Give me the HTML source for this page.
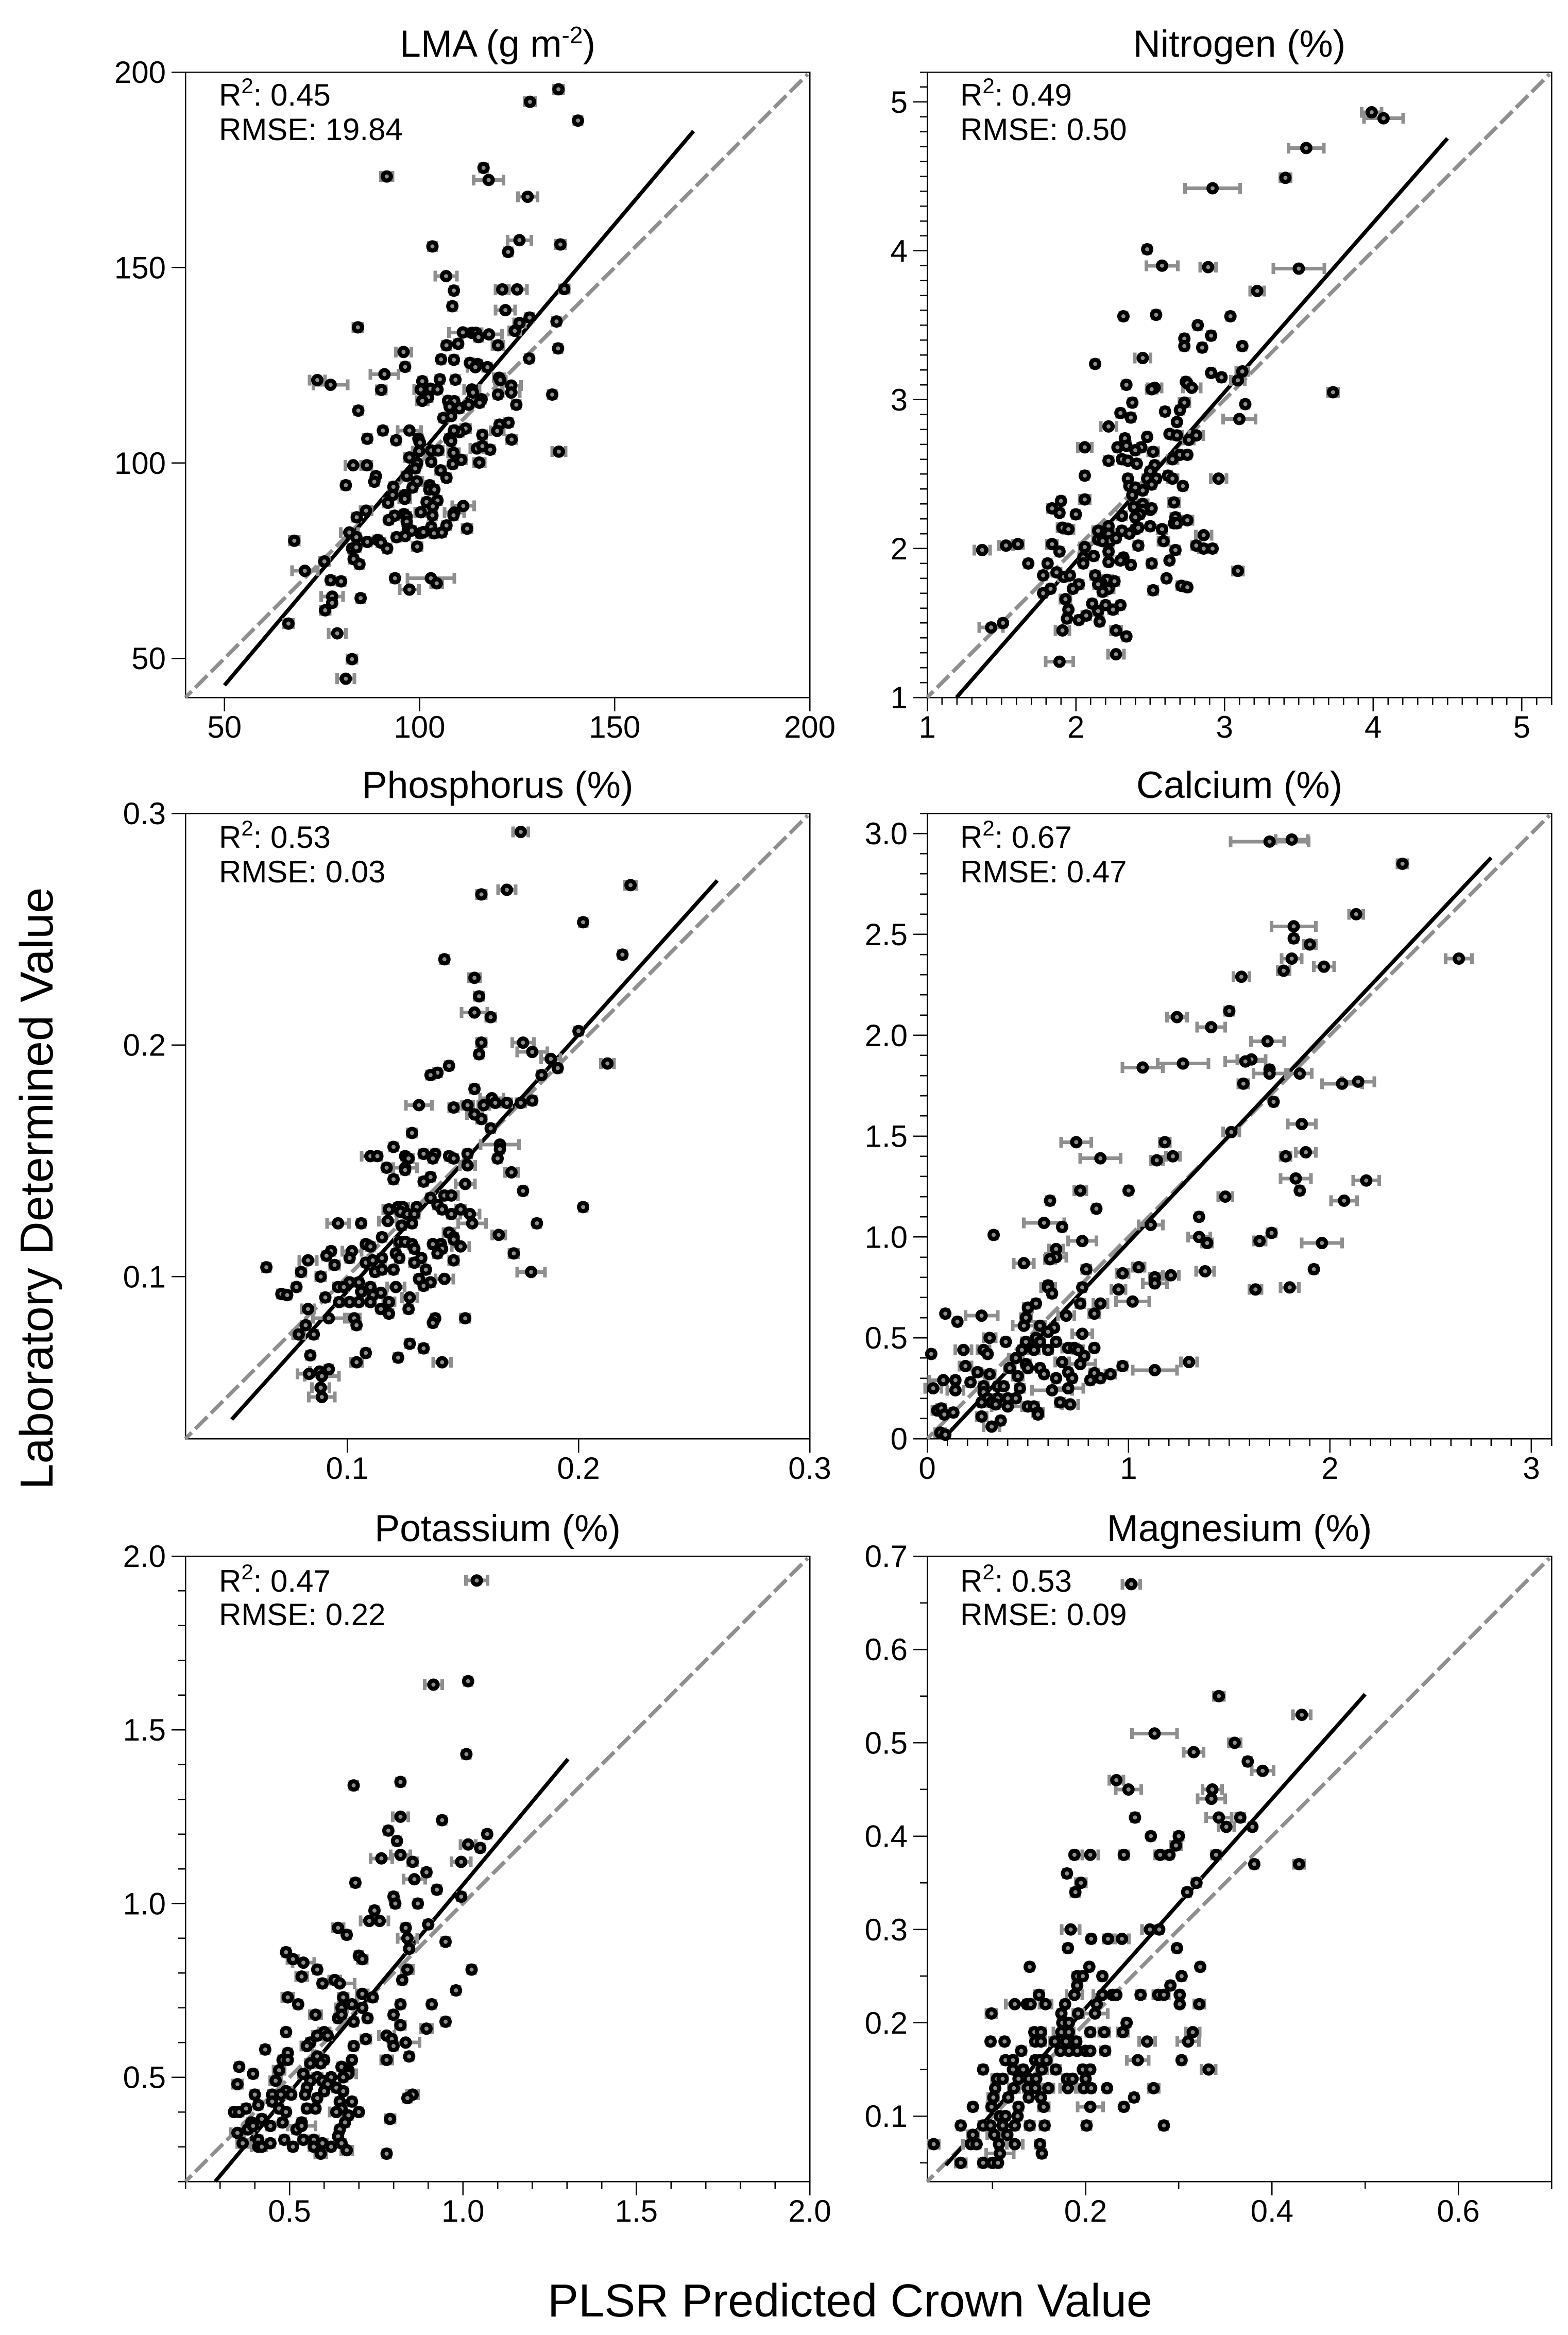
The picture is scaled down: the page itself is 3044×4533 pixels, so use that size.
<!DOCTYPE html>
<html lang="en">
<head>
<meta charset="utf-8">
<title>PLSR Predicted Crown Value vs Laboratory Determined Value</title>
<style>
html,body{margin:0;padding:0;background:#fff}
svg{display:block;font-family:"Liberation Sans",Arial,sans-serif;fill:#000}
.title{font-size:73.5px;text-anchor:middle}
.stat{font-size:60px}
.big{font-size:90px;text-anchor:middle}
.tick{font-size:60px}
</style>
</head>
<body>
<svg id="figure" xmlns="http://www.w3.org/2000/svg" width="3044" height="4533" viewBox="0 0 3044 4533">
<rect x="0" y="0" width="3044" height="4533" fill="#fff"/>
<text class="big" transform="translate(102 2307) rotate(-90)">Laboratory Determined Value</text>
<text class="big" x="1650" y="4497">PLSR Predicted Crown Value</text>

<text class="title" x="966" y="110">LMA (g m<tspan dy="-26" font-size="46">-2</tspan><tspan dy="26">)</tspan></text>
<text class="title" x="2406" y="110">Nitrogen (%)</text>
<text class="title" x="966" y="1549">Phosphorus (%)</text>
<text class="title" x="2406" y="1549">Calcium (%)</text>
<text class="title" x="966" y="2992">Potassium (%)</text>
<text class="title" x="2406" y="2992">Magnesium (%)</text>

<g id="marks"></g>

<g>
<text class="stat" x="425" y="205">R<tspan dy="-24" font-size="42">2</tspan><tspan dy="24">: 0.45</tspan></text>
<text class="stat" x="425" y="272">RMSE: 19.84</text>
</g>
<g>
<text class="stat" x="1864" y="205">R<tspan dy="-24" font-size="42">2</tspan><tspan dy="24">: 0.49</tspan></text>
<text class="stat" x="1864" y="272">RMSE: 0.50</text>
</g>
<g>
<text class="stat" x="425" y="1646">R<tspan dy="-24" font-size="42">2</tspan><tspan dy="24">: 0.53</tspan></text>
<text class="stat" x="425" y="1713">RMSE: 0.03</text>
</g>
<g>
<text class="stat" x="1864" y="1646">R<tspan dy="-24" font-size="42">2</tspan><tspan dy="24">: 0.67</tspan></text>
<text class="stat" x="1864" y="1713">RMSE: 0.47</text>
</g>
<g>
<text class="stat" x="425" y="3090">R<tspan dy="-24" font-size="42">2</tspan><tspan dy="24">: 0.47</tspan></text>
<text class="stat" x="425" y="3155">RMSE: 0.22</text>
</g>
<g>
<text class="stat" x="1864" y="3090">R<tspan dy="-24" font-size="42">2</tspan><tspan dy="24">: 0.53</tspan></text>
<text class="stat" x="1864" y="3155">RMSE: 0.09</text>
</g>
</svg>

<script>
// ---------- LMA ----------
const lmaPredicted = [135.6,128.3,140.6,91.6,116.4,117.7,127.7,125.6,103.3,136.1,122.7,106.8,108.8,121.2,125,137.1,108.4,122,128.2,135.1,125.6,84.2,124.4,111.1,113.4,114.5,115.1,117.8,109.9,106.9,120.1,95.9,135.5,105.5,108.8,128.1,112.9,114.9,114.3,117.4,96.3,91,73.8,77.2,100.7,105.2,109.2,120.4,120.7,123.5,90.2,100.3,102.8,104.6,113.4,113.7,123.5,120.1,134,102.2,100.7,107.3,108.9,115.9,115.4,112.6,124.8,110.2,107.7,84.3,108.1,106.1,122.8,120.5,119.9,111.8,110.2,108.8,97.4,90.6,116.1,86.6,94,99.7,100.1,107.6,108.1,123.6,135.7,114.7,116.1,118.1,99.9,103,104.8,108.7,97.4,103,110.7,115.3,108.5,83,86.5,99.4,98.9,105.4,88.8,88.4,96.7,106.9,99.3,81.1,93.3,98.2,102.6,102.5,103.8,96.2,96.2,93.1,101.8,104.6,91.9,103.4,111.2,86.3,100.3,108.9,83.9,93.6,96,96.7,103.3,108.7,92.1,96.7,106.9,103,112.2,97,98,82,83.8,96.3,94.1,100.2,101,103.7,105.7,86.6,67.9,89.3,90.1,99.4,82.7,83.8,91.7,75.6,83.1,84.6,70.6,93.7,77.2,79.9,102.9,104.4,97.4,77.6,84.9,77.6,75.8,66.4,78.9,82.7,81.1];
const lmaMeasured = [195.6,192.4,187.6,173.3,175.5,172.4,168.1,157,155.4,155.9,154,147.8,144.1,144.4,144.4,144.5,140.1,139.1,137.2,136.2,135.8,134.7,133.8,133.4,133.3,133.3,132.2,132.9,130.5,130.1,130.1,128.4,129.3,126.5,126.4,126.7,125.6,125.3,124.5,124.5,124.6,122.7,121.2,120,120.9,121.4,121.3,121.8,121.2,119.8,118.7,118.8,119,118.8,118.8,118,118,117.5,117.5,116.8,115.9,115.9,115.8,116.3,115.4,114.9,114.9,114,114.4,113.4,112,111.5,110.3,109.8,108.2,108.8,107.9,108.3,108.3,108.3,107.2,106.2,105.8,106.2,105.2,106.2,105.6,106,102.9,103.7,104.3,103.4,103,103.2,103.2,102.6,101.4,100.3,100.8,100.1,99.7,99.4,99.4,99.9,98.6,98.1,96.6,95.2,96.7,96.2,95.3,94.3,93.9,93.7,94.3,93.2,93.2,91.8,90.8,91.8,90,90.4,89.8,88.9,89,87.8,87.4,87.3,86.1,86.5,86.9,86.3,86.6,86.6,85.4,85,84,83.6,83.2,83.1,82.7,82.2,81,81.3,81,82,82.3,82,82.2,79.8,80.1,80.3,79.6,78.6,78.1,78.4,78.1,74.8,75.4,74.1,72.4,70.5,70,69.7,70.5,69.2,67.6,65.8,65.4,64.2,62.3,58.9,56.4,49.8,44.8];
const lmaError = [1.15,1.4,.9,1.5,.9,3.85,2.5,3.05,.9,1.15,.9,2.8,.9,1.7,2.5,1.15,.9,2.5,.9,.9,1.4,1.15,1.4,3.6,.9,1.4,.9,3.3,.9,.9,1.4,2,.9,.9,.9,.9,.9,.9,2,.9,.9,3.6,2,4.4,.9,.9,.9,1.4,1.4,2.5,1.15,1.7,1.7,.9,2,.9,2.2,.9,.9,.9,1.4,.9,.9,.9,.9,.9,.9,.9,.9,.9,.9,.9,.9,.9,1.7,1.15,.9,.9,3,.9,.9,.9,.9,.9,.9,.9,.9,1.15,1.7,1.7,.9,.9,1.7,.9,1.15,1.4,1.15,.9,1.15,1.4,.9,2,1.15,.9,.9,1.15,.9,.9,1.15,.9,1.4,.9,.9,.9,.9,.9,.9,1.4,1.4,.9,.9,.9,1.15,.9,2.8,1.4,1.4,2.5,.9,.9,.9,.9,.9,.9,.9,.9,.9,.9,1.15,.9,.9,2.2,.9,.9,.9,.9,.9,.9,.9,.9,1.15,.9,.9,1.15,.9,.9,.9,1.15,.9,.9,3.3,.9,.9,.9,6,1.4,2.5,2.8,.9,.9,1.15,1.15,2.2,1.15,2.2];
const lmaXLabels = ['50','100','150','200'];
const lmaYLabels = ['50','100','150','200'];
const lmaFit = [[50,43.1],[170.2,184.9]];

// ---------- Nitrogen ----------
const nitrogenPredicted = [3.99,4.07,3.55,3.41,2.92,2.48,2.58,2.89,3.50,3.22,2.32,2.54,3.04,2.82,2.91,2.73,2.73,2.85,3.12,2.45,2.13,2.91,3.12,2.98,3.09,2.74,2.75,2.78,2.34,2.53,2.51,3.73,2.38,2.73,3.14,2.60,2.70,2.30,2.37,3.10,2.68,2.22,2.63,2.68,2.81,2.76,2.48,2.33,2.28,2.34,2.06,2.44,2.40,2.52,2.70,2.75,2.65,2.22,2.31,2.35,2.41,2.53,2.50,2.06,2.35,2.48,2.54,2.62,2.65,2.96,2.51,2.36,2.72,2.40,2.45,2.06,1.90,2.38,2.66,2.45,1.84,2.39,2.50,2.51,1.89,2.45,2.00,2.43,2.31,2.40,2.67,2.75,2.66,2.68,2.50,2.22,1.91,1.95,2.40,2.42,2.58,2.15,2.31,2.36,2.22,2.86,2.15,2.59,2.23,2.27,2.18,1.84,1.61,1.53,2.42,2.81,2.06,2.86,2.92,1.37,1.89,2.22,2.67,2.12,2.05,2.32,2.30,2.63,1.81,1.68,2.05,2.22,2.51,2.37,3.09,1.87,1.78,1.92,1.96,2.13,2.61,2.21,2.17,2.26,2.15,2.02,2.71,2.75,1.98,1.83,2.22,2.52,2.18,1.78,1.93,2.11,2.20,2.30,1.95,2.25,2.15,2.07,1.94,2.02,2.16,1.51,1.43,1.91,2.27,2.34,2.27,1.89];
const nitrogenMeasured = [4.93,4.89,4.69,4.49,4.42,4.01,3.90,3.89,3.88,3.73,3.56,3.57,3.56,3.50,3.43,3.41,3.36,3.35,3.36,3.28,3.24,3.18,3.19,3.15,3.13,3.12,3.11,3.08,3.10,3.08,3.07,3.05,2.98,2.98,2.97,2.92,2.93,2.91,2.88,2.87,2.85,2.82,2.77,2.76,2.76,2.73,2.75,2.74,2.68,2.69,2.68,2.68,2.66,2.65,2.63,2.63,2.60,2.59,2.60,2.59,2.57,2.56,2.52,2.49,2.47,2.47,2.47,2.49,2.47,2.47,2.43,2.42,2.42,2.41,2.39,2.33,2.32,2.36,2.31,2.30,2.27,2.28,2.26,2.27,2.24,2.26,2.23,2.23,2.22,2.21,2.21,2.19,2.17,2.17,2.15,2.15,2.14,2.13,2.13,2.14,2.13,2.12,2.12,2.10,2.10,2.09,2.06,2.05,2.05,2.07,2.05,2.03,2.03,2.02,2.02,2.02,2.01,2.00,2.00,1.99,1.98,1.98,1.99,1.95,1.94,1.94,1.92,1.92,1.90,1.90,1.90,1.91,1.90,1.89,1.85,1.84,1.82,1.81,1.82,1.82,1.80,1.79,1.77,1.78,1.76,1.76,1.75,1.74,1.73,1.73,1.73,1.72,1.71,1.70,1.66,1.63,1.62,1.62,1.59,1.59,1.58,1.55,1.53,1.52,1.51,1.50,1.47,1.45,1.45,1.41,1.29,1.24];
const nitrogenError = [.067,.132,.119,.034,.185,.021,.106,.053,.171,.047,.021,.021,.021,.021,.021,.021,.021,.021,.021,.053,.021,.021,.04,.021,.047,.021,.021,.06,.021,.047,.034,.034,.021,.034,.021,.021,.021,.021,.021,.11,.021,.053,.021,.034,.047,.034,.021,.021,.021,.027,.047,.021,.021,.034,.027,.021,.034,.027,.021,.021,.021,.021,.021,.021,.021,.027,.021,.021,.034,.053,.021,.021,.021,.021,.021,.034,.021,.021,.034,.034,.027,.021,.021,.021,.021,.021,.021,.021,.027,.021,.027,.034,.021,.021,.021,.021,.034,.034,.021,.021,.027,.034,.021,.021,.047,.053,.034,.034,.021,.021,.021,.034,.034,.047,.027,.027,.034,.034,.021,.053,.021,.027,.027,.021,.027,.021,.021,.021,.021,.021,.021,.021,.027,.021,.034,.027,.021,.034,.021,.027,.021,.034,.027,.027,.027,.027,.027,.021,.021,.021,.034,.027,.027,.021,.034,.021,.021,.021,.021,.027,.027,.027,.021,.021,.021,.021,.08,.047,.034,.021,.053,.093];
const nitrogenXLabels = ['1','2','3','4','5'];
const nitrogenYLabels = ['1','2','3','4','5'];
const nitrogenFit = [[1.197,1],[4.5,4.755]];

// ---------- Phosphorus ----------
const phosphorusPredicted = [.175,.2225,.169,.158,.202,.219,.142,.155,.157,.155,.162,.158,.176,.180,.157,.188,.191,.2125,.144,.200,.139,.136,.184,.155,.1625,.164,.169,.175,.180,.131,.146,.152,.159,.155,.158,.162,.128,.166,.166,.120,.110,.113,.125,.1265,.133,.138,.137,.144,.146,.152,.165,.152,.117,.125,.125,.171,.120,.136,.133,.151,.176,.136,.142,.145,.202,.118,.122,.124,.130,.139,.141,.149,.153,.123,.126,.129,.145,.1175,.096,.106,.1235,.128,.154,.182,.144,.146,.1655,.115,.146,.108,.110,.1225,.125,.128,.129,.137,.1405,.141,.149,.093,.091,.102,.101,.121,.1225,.139,.172,.083,.108,.115,.111,.132,.129,.146,.0945,.065,.080,.112,.115,.120,.134,.1795,.0885,.131,.142,.101,.105,.136,.096,.0985,.110,.121,.133,.078,.106,.0715,.074,.1145,.111,.0905,.127,.0965,.101,.105,.110,.118,.083,.1145,.1265,.118,.092,.103,.138,.151,.137,.104,.082,.079,.0855,.127,.133,.108,.084,.122,.104,.141,.092,.088,.0835,.089,.0885,.089];
const phosphorusMeasured = [.292,.269,.267,.265,.253,.239,.237,.229,.221,.214,.212,.201,.201,.197,.196,.194,.190,.192,.191,.206,.188,.187,.187,.181,.177,.175,.175,.175,.176,.174,.173,.174,.174,.170,.168,.164,.162,.157,.155,.156,.152,.152,.152,.151,.153,.153,.151,.152,.151,.153,.151,.148,.147,.147,.146,.145,.142,.143,.141,.140,.137,.134,.135,.135,.130,.129,.130,.130,.130,.131,.129,.129,.127,.128,.127,.127,.127,.124,.123,.123,.122,.123,.123,.123,.119,.117,.118,.117,.116,.114,.113,.115,.115,.114,.112,.114,.114,.112,.113,.111,.109,.111,.108,.110,.108,.110,.110,.107,.106,.108,.107,.108,.106,.107,.105,.104,.102,.102,.103,.103,.103,.102,.100,.099,.099,.0975,.0975,.0975,.0955,.0955,.0955,.0955,.096,.0955,.0935,.0925,.092,.093,.092,.091,.091,.089,.089,.089,.089,.089,.086,.086,.086,.084,.082,.082,.082,.082,.080,.079,.079,.075,.075,.071,.069,.067,.066,.065,.063,.063,.060,.059,.058,.057,.052,.048];
const phosphorusError = [.0033,.0024,.0038,.0019,.0015,.0015,.0015,.0024,.0019,.0056,.0019,.0019,.0047,.0065,.0015,.0042,.0015,.0028,.0015,.0015,.0015,.0015,.0015,.0015,.0051,.0019,.0019,.0019,.0015,.0056,.0019,.0024,.0024,.0033,.0019,.0015,.0019,.0083,.0015,.0015,.0038,.0015,.0015,.0019,.0015,.0015,.0015,.0015,.0015,.0015,.0015,.0033,.0015,.0051,.0015,.0028,.0015,.0015,.0015,.0042,.0015,.0015,.0015,.0028,.0015,.0024,.0015,.0024,.0015,.0015,.0015,.0019,.0042,.0019,.0015,.0019,.0015,.0038,.0047,.0015,.0015,.0015,.006,.0015,.0024,.0015,.0028,.0015,.0015,.0015,.0015,.0019,.0015,.0015,.0015,.0015,.0015,.0015,.0038,.0015,.0015,.0042,.0015,.0015,.0015,.0015,.0019,.0038,.0015,.0015,.0015,.0015,.0019,.0019,.0019,.0015,.0019,.0015,.0015,.0015,.0015,.006,.0019,.0015,.0038,.0015,.0015,.0015,.0019,.0015,.0015,.0038,.0015,.0015,.0015,.0015,.0015,.0024,.0015,.0015,.0033,.0015,.0015,.0015,.0015,.0024,.0028,.0015,.0015,.0015,.0069,.0024,.0015,.0019,.0015,.0015,.0015,.0024,.0015,.0015,.0015,.0015,.0015,.0015,.0024,.0038,.0015,.0042,.0051,.0074,.0038,.0056];
const phosphorusXLabels = ['0.1','0.2','0.3'];
const phosphorusYLabels = ['0.1','0.2','0.3'];
const phosphorusFit = [[.05,.0383],[.26,.271]];

// ---------- Calcium ----------
const calciumPredicted = [1.81,1.70,2.36,2.13,1.82,1.82,1.90,1.81,2.64,1.97,1.77,1.56,1.50,1.24,1.41,1.69,1.61,1.58,1.27,1.07,1.70,1.70,1.85,2.06,2.14,1.57,1.72,1.86,1.51,.74,1.18,.86,1.14,1.22,1.78,1.88,1.83,2.18,.76,1.00,1.85,1.48,.61,2.07,.84,1.35,.58,1.11,.67,.33,1.71,1.35,.77,1.65,1.39,1.96,.64,.64,.61,.48,1.05,1.92,.79,.97,1.38,1.21,1.13,1.13,.60,.60,.77,1.80,.95,1.63,.62,1.02,.54,.76,.86,.50,.09,.83,.27,.69,.49,.15,.48,.56,.63,.60,.77,.31,.54,.39,.49,.56,.64,.18,.28,.47,.53,.60,.70,.73,.75,.83,.02,.30,.44,.78,.67,.76,1.30,.19,.41,.49,.50,.56,.97,1.13,.25,.70,.58,.83,.91,.31,.45,.64,.72,.86,.08,.14,.215,.81,.03,.28,.35,.38,.46,.70,.14,.62,.28,.40,.44,.35,.30,.27,.32,.34,.66,.71,.40,.50,.53,.05,.07,.085,.13,.27,.55,.55,.365,.32,.065,.09];
const calciumMeasured = [2.97,2.96,2.85,2.60,2.54,2.48,2.45,2.38,2.38,2.34,2.32,2.29,2.12,2.09,2.04,1.97,1.88,1.87,1.86,1.84,1.83,1.81,1.81,1.76,1.77,1.76,1.67,1.56,1.52,1.47,1.47,1.39,1.38,1.40,1.40,1.42,1.29,1.28,1.23,1.23,1.23,1.20,1.18,1.18,1.14,1.10,1.07,1.06,1.05,1.01,1.02,1.00,.98,.98,.97,.97,.94,.90,.89,.87,.85,.84,.84,.82,.83,.81,.80,.77,.76,.75,.75,.75,.74,.74,.72,.68,.67,.67,.67,.65,.62,.62,.61,.61,.60,.58,.56,.56,.55,.53,.52,.50,.50,.48,.48,.48,.48,.44,.44,.44,.44,.44,.45,.45,.44,.45,.42,.42,.40,.41,.38,.37,.38,.36,.35,.37,.35,.35,.36,.34,.33,.33,.32,.325,.32,.32,.31,.30,.30,.30,.29,.29,.28,.29,.25,.26,.26,.26,.25,.25,.24,.24,.23,.20,.20,.20,.20,.18,.18,.17,.18,.17,.16,.16,.16,.14,.15,.12,.13,.11,.13,.12,.09,.06,.03,.02];
const calciumError = [.08,.194,.025,.035,.11,.015,.03,.05,.065,.05,.03,.04,.02,.05,.07,.083,.07,.1,.126,.1,.015,.08,.06,.1,.08,.025,.015,.07,.04,.075,.025,.1,.03,.035,.025,.05,.075,.065,.03,.015,.015,.035,.015,.065,.015,.015,.1,.06,.015,.015,.02,.055,.07,.03,.025,.1,.035,.05,.025,.05,.03,.015,.02,.03,.045,.04,.025,.06,.015,.035,.015,.045,.035,.03,.015,.083,.015,.02,.035,.02,.015,.025,.08,.04,.025,.015,.055,.025,.015,.015,.05,.03,.015,.015,.02,.02,.015,.04,.03,.015,.025,.02,.03,.02,.025,.015,.015,.015,.035,.015,.035,.075,.04,.03,.025,.02,.015,.015,.02,.11,.02,.015,.015,.02,.025,.025,.025,.015,.015,.015,.07,.015,.015,.015,.04,.02,.015,.015,.02,.075,.04,.1,.015,.015,.015,.02,.015,.015,.025,.015,.02,.04,.08,.03,.02,.025,.02,.015,.015,.025,.025,.015,.015,.04,.025,.015,.015];
const calciumXLabels = ['0','1','2','3'];
const calciumYLabels = ['0','0.5','1.0','1.5','2.0','2.5','3.0'];
const calciumFit = [[.08,0],[2.8,2.88]];

// ---------- Potassium ----------
const potassiumPredicted = [1.04,1.015,.915,1.01,.685,.82,.82,.94,.785,1.07,.81,1.015,1.05,.765,.82,.855,.995,.895,.86,.69,.925,.80,.995,.805,.87,.745,.73,.76,.90,.64,.835,.665,.84,.95,.845,.49,.70,.71,.51,.54,.58,.84,1.025,.535,.825,.63,.595,.645,.98,.71,.495,.655,.74,.525,.82,.91,.68,.65,.71,.575,.80,.64,.65,.725,.685,.95,.82,.895,.49,.60,.58,.61,.78,.795,.72,.835,.56,.80,.55,.685,.43,.495,.48,.495,.58,.845,.78,.68,.60,.56,.59,.355,.47,.65,.67,.395,.54,.67,.58,.62,.655,.46,.56,.595,.61,.35,.55,.635,.49,.60,.655,.40,.45,.475,.505,.545,.58,.855,.84,.45,.645,.68,.41,.47,.55,.575,.65,.34,.355,.375,.49,.635,.67,.70,.79,.39,.42,.48,.535,.38,.395,.445,.52,.535,.66,.645,.35,.64,.485,.54,.57,.41,.65,.365,.445,.41,.42,.51,.57,.595,.62,.665,.59,.78];
const potassiumMeasured = [1.93,1.64,1.63,1.43,1.34,1.35,1.25,1.24,1.21,1.20,1.18,1.17,1.16,1.13,1.14,1.12,1.12,1.09,1.07,1.06,1.04,1.02,1.02,1.00,1.00,.98,.95,.95,.94,.93,.93,.91,.90,.89,.87,.86,.85,.84,.84,.83,.81,.81,.81,.79,.78,.78,.77,.77,.75,.74,.73,.73,.73,.71,.71,.71,.71,.70,.70,.68,.68,.67,.68,.67,.66,.66,.65,.64,.63,.63,.62,.62,.62,.61,.61,.60,.60,.59,.59,.59,.58,.57,.55,.55,.56,.56,.55,.55,.55,.54,.54,.53,.52,.53,.52,.51,.51,.51,.50,.50,.50,.49,.49,.49,.48,.48,.47,.47,.46,.46,.46,.45,.45,.45,.45,.45,.44,.45,.44,.43,.43,.43,.42,.41,.41,.41,.41,.40,.40,.41,.40,.40,.39,.40,.38,.37,.38,.37,.37,.35,.36,.36,.35,.36,.37,.35,.34,.33,.32,.32,.32,.32,.31,.31,.31,.30,.30,.30,.30,.31,.30,.29,.28,.28];
const potassiumError = [.031,.01,.025,.01,.01,.01,.022,.01,.01,.01,.01,.022,.01,.031,.028,.013,.028,.01,.031,.01,.01,.01,.01,.01,.01,.01,.025,.025,.01,.016,.01,.01,.028,.01,.01,.01,.01,.013,.016,.031,.01,.016,.01,.016,.01,.016,.01,.043,.01,.016,.016,.013,.01,.01,.01,.01,.016,.016,.01,.016,.01,.01,.01,.01,.01,.01,.013,.016,.01,.016,.013,.01,.022,.01,.013,.04,.01,.01,.016,.01,.01,.01,.01,.01,.013,.01,.016,.01,.01,.013,.01,.01,.016,.01,.01,.01,.013,.022,.013,.01,.01,.016,.01,.01,.01,.013,.01,.01,.016,.01,.01,.01,.01,.01,.01,.01,.01,.016,.01,.01,.01,.01,.01,.01,.01,.01,.01,.01,.01,.01,.01,.019,.01,.01,.013,.01,.01,.01,.01,.016,.01,.01,.01,.04,.01,.01,.019,.01,.01,.013,.013,.01,.01,.016,.01,.019,.013,.01,.013,.013,.01,.016,.016,.01];
const potassiumXLabels = ['0.5','1.0','1.5','2.0'];
const potassiumYLabels = ['0.5','1.0','1.5','2.0'];
const potassiumFit = [[.286,.2],[1.303,1.416]];

// ---------- Magnesium ----------
const magnesiumPredicted = [.249,.343,.432,.274,.36,.316,.374,.39,.233,.246,.336,.335,.253,.343,.366,.351,.379,.27,.30,.297,.188,.205,.241,.28,.29,.34,.381,.429,.18,.195,.319,.189,.309,.184,.269,.279,.206,.224,.239,.181,.298,.14,.204,.323,.191,.197,.218,.303,.191,.291,.15,.188,.218,.229,.233,.259,.278,.284,.301,.124,.137,.141,.157,.178,.212,.301,.322,.099,.174,.192,.21,.244,.175,.182,.145,.152,.174,.182,.205,.22,.24,.315,.098,.113,.146,.152,.167,.179,.19,.266,.31,.131,.173,.182,.191,.20,.205,.221,.114,.122,.146,.151,.158,.256,.303,.09,.122,.133,.153,.168,.197,.205,.332,.105,.111,.128,.139,.147,.18,.186,.20,.103,.123,.138,.146,.16,.181,.198,.206,.223,.273,.101,.117,.139,.152,.252,.079,.099,.128,.155,.205,.241,.108,.114,.127,.066,.09,.098,.111,.124,.14,.156,.201,.284,.079,.102,.116,.037,.077,.083,.107,.124,.151,.108,.153,.066,.09,.10,.106];
const magnesiumMeasured = [.67,.55,.53,.51,.50,.49,.48,.47,.46,.45,.45,.44,.42,.42,.42,.41,.41,.40,.40,.39,.38,.38,.38,.38,.38,.38,.37,.37,.36,.35,.35,.34,.34,.30,.30,.30,.29,.29,.29,.28,.28,.26,.26,.26,.25,.25,.25,.25,.24,.24,.23,.23,.23,.23,.23,.23,.23,.23,.23,.22,.22,.22,.22,.22,.22,.22,.22,.21,.21,.21,.21,.20,.20,.20,.19,.19,.19,.19,.19,.19,.19,.19,.18,.18,.18,.18,.18,.18,.18,.18,.18,.17,.17,.17,.17,.17,.17,.17,.16,.16,.16,.16,.16,.16,.16,.15,.15,.15,.15,.15,.15,.15,.15,.14,.14,.14,.14,.14,.14,.14,.14,.13,.13,.13,.13,.13,.13,.13,.13,.13,.13,.12,.12,.12,.12,.12,.11,.11,.11,.11,.11,.11,.10,.10,.10,.09,.09,.09,.09,.09,.09,.09,.09,.09,.08,.08,.08,.07,.07,.07,.07,.07,.07,.06,.06,.05,.05,.05,.05];
const magnesiumError = [.0096,.0054,.0096,.0242,.0064,.0106,.0033,.0117,.0075,.0137,.0106,.0148,.0033,.0137,.0043,.0085,.0033,.0033,.0043,.0054,.0033,.0085,.0043,.0054,.0033,.0043,.0033,.0054,.0033,.0054,.0043,.0043,.0033,.0096,.0085,.0033,.0033,.0043,.0075,.0033,.0033,.0033,.0033,.0033,.0043,.0033,.0033,.0033,.0033,.0033,.0043,.0085,.0096,.0033,.0033,.0043,.0054,.0054,.0033,.0096,.0033,.0033,.0064,.0033,.0033,.0033,.0054,.0054,.0033,.0054,.0137,.0033,.0033,.0033,.0043,.0043,.0085,.0054,.0043,.0054,.0054,.0075,.0033,.0033,.0043,.0043,.0054,.0043,.0043,.0085,.0117,.0043,.0033,.0043,.0033,.0043,.0033,.0043,.0033,.0043,.0033,.0033,.0054,.0117,.0033,.0033,.0033,.0033,.0054,.0043,.0033,.0033,.0075,.0054,.0043,.0033,.0054,.0033,.0043,.0033,.0033,.0033,.0054,.0043,.0054,.0054,.0085,.0043,.0033,.0033,.0054,.0054,.0033,.0033,.0033,.0033,.0033,.0043,.0043,.0054,.0137,.0033,.0043,.0033,.0033,.0033,.0043,.0033,.0033,.0033,.0043,.0043,.0043,.0033,.0054,.0075,.0033,.0054,.0085,.0033,.0033,.0085,.0043,.0148,.0033,.0054,.0043,.0033,.0033,.0043];
const magnesiumXLabels = ['0.2','0.4','0.6'];
const magnesiumYLabels = ['0.1','0.2','0.3','0.4','0.5','0.6','0.7'];
const magnesiumFit = [[.05,.0475],[.5,.552]];

// ---------- Panel layout and axis settings ----------
const panels = [
  {key:'lma',        left:360,  top:140,  min:40,   max:200, minorX:0,   minorY:0,   px:lmaPredicted,        py:lmaMeasured,        pe:lmaError,        xl:lmaXLabels,        yl:lmaYLabels,        fit:lmaFit},
  {key:'nitrogen',   left:1800, top:140,  min:1,    max:5.2, minorX:.1,  minorY:.1,  px:nitrogenPredicted,   py:nitrogenMeasured,   pe:nitrogenError,   xl:nitrogenXLabels,   yl:nitrogenYLabels,   fit:nitrogenFit},
  {key:'phosphorus', left:360,  top:1579, min:.03,  max:.3,  minorX:0,   minorY:0,   px:phosphorusPredicted, py:phosphorusMeasured, pe:phosphorusError, xl:phosphorusXLabels, yl:phosphorusYLabels, fit:phosphorusFit},
  {key:'calcium',    left:1800, top:1579, min:0,    max:3.1, minorX:.1,  minorY:.1,  px:calciumPredicted,    py:calciumMeasured,    pe:calciumError,    xl:calciumXLabels,    yl:calciumYLabels,    fit:calciumFit},
  {key:'potassium',  left:360,  top:3021, min:.2,   max:2,   minorX:.1,  minorY:.1,  px:potassiumPredicted,  py:potassiumMeasured,  pe:potassiumError,  xl:potassiumXLabels,  yl:potassiumYLabels,  fit:potassiumFit},
  {key:'magnesium',  left:1800, top:3021, min:.03,  max:.7,  minorX:.1,  minorY:.05, px:magnesiumPredicted,  py:magnesiumMeasured,  pe:magnesiumError,  xl:magnesiumXLabels,  yl:magnesiumYLabels,  fit:magnesiumFit}
];
const SIZE_W = 1212, SIZE_H = 1214;
const GRAY = '#8f8f8f';
const NS = 'http://www.w3.org/2000/svg';

function make(tag, attrs, parent) {
  const el = document.createElementNS(NS, tag);
  for (const k in attrs) el.setAttribute(k, attrs[k]);
  parent.appendChild(el);
  return el;
}

function minorValues(min, max, step) {
  const out = [];
  if (!step) return out;
  for (let k = Math.ceil(min / step - 1e-6); k * step <= max + 1e-6; k++) out.push(k * step);
  return out;
}

function drawPanel(p, root) {
  const L = p.left, T = p.top, R = L + SIZE_W, B = T + SIZE_H;
  const xs = v => L + (v - p.min) / (p.max - p.min) * SIZE_W;
  const ys = v => B - (v - p.min) / (p.max - p.min) * SIZE_H;

  const g = make('g', {}, root);
  
  

  const frame = make('rect', {x:L, y:T, width:SIZE_W, height:SIZE_H, fill:'none', stroke:'#000', 'stroke-width':2.5, 'shape-rendering':'crispEdges'}, g);
  
  

  // ticks
  const xMajor = p.xl.map(parseFloat);
  const yMajor = p.yl.map(parseFloat);
  const isMajor = (list, v) => list.some(m => Math.abs(m - v) < 1e-6);

  minorValues(p.min, p.max, p.minorX).filter(v => !isMajor(xMajor, v)).forEach(v => {
    const t = make('line', {x1:xs(v), x2:xs(v), y1:B, y2:B + 14, stroke:'#000', 'stroke-width':2.5, 'shape-rendering':'crispEdges'}, g);
    
    
  });
  minorValues(p.min, p.max, p.minorY).filter(v => !isMajor(yMajor, v)).forEach(v => {
    const t = make('line', {x1:L - 14, x2:L, y1:ys(v), y2:ys(v), stroke:'#000', 'stroke-width':2.5, 'shape-rendering':'crispEdges'}, g);
    
    
  });
  p.xl.forEach(lab => {
    const v = parseFloat(lab);
    const t = make('line', {x1:xs(v), x2:xs(v), y1:B, y2:B + 27, stroke:'#000', 'stroke-width':2.5, 'shape-rendering':'crispEdges'}, g);
    
    
    const txt = make('text', {x:xs(v), y:B + 78, 'text-anchor':'middle', 'class':'tick'}, g);
    
    
    txt.textContent = lab;
  });
  p.yl.forEach(lab => {
    const v = parseFloat(lab);
    const t = make('line', {x1:L - 27, x2:L, y1:ys(v), y2:ys(v), stroke:'#000', 'stroke-width':2.5, 'shape-rendering':'crispEdges'}, g);
    
    
    const txt = make('text', {x:L - 38, y:ys(v) + 21, 'text-anchor':'end', 'class':'tick'}, g);
    
    
    txt.textContent = lab;
  });

  // 1:1 reference line
  const refLine = make('line', {x1:xs(p.min), y1:ys(p.min), x2:xs(p.max) - 4, y2:ys(p.max) + 4, stroke:GRAY, 'stroke-width':7.5, 'stroke-dasharray':'33 10', 'stroke-dashoffset':16}, g);
  
  

  // regression line
  const fitLine = make('line', {x1:xs(p.fit[0][0]), y1:ys(p.fit[0][1]), x2:xs(p.fit[1][0]), y2:ys(p.fit[1][1]), stroke:'#000', 'stroke-width':7.5}, g);
  
  

  // error bars
  const barsGroup = make('g', {stroke:GRAY, fill:'none', 'shape-rendering':'crispEdges'}, g);
  
  
  p.px.forEach((xv, i) => {
    const yv = p.py[i];
    const e = p.pe[i] === undefined ? p.pe[p.pe.length - 1] : p.pe[i];
    const x0 = xs(xv - e), x1 = xs(xv + e), y = ys(yv);
    const d = 'M' + x0 + ' ' + y + 'H' + x1;
    const bar = make('path', {d:d, 'stroke-width':7}, barsGroup);
    
    
    const caps = make('path', {d:'M' + x0 + ' ' + (y - 10.5) + 'V' + (y + 10.5) + 'M' + x1 + ' ' + (y - 10.5) + 'V' + (y + 10.5), 'stroke-width':7}, barsGroup);
    
    
  });

  // points
  const pointsGroup = make('g', {}, g);
  
  
  p.px.forEach((xv, i) => {
    const c = make('circle', {cx:xs(xv), cy:ys(p.py[i]), r:8, fill:GRAY, stroke:'#000', 'stroke-width':8}, pointsGroup);
    
    
  });
}

const marksRoot = document.getElementById('marks');
panels.forEach(p => drawPanel(p, marksRoot));
</script>
</body>
</html>
